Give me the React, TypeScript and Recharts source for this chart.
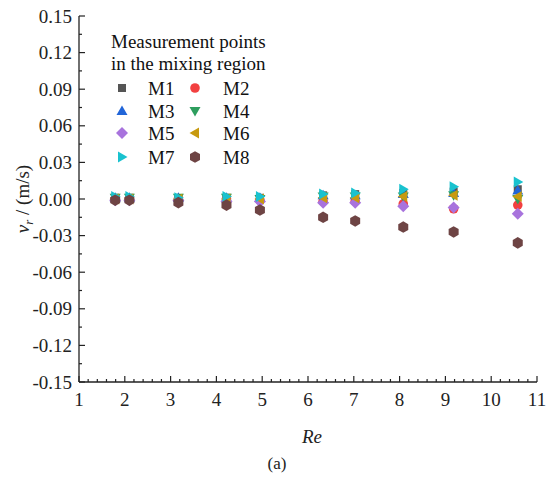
import { Scatter, ScatterChart, XAxis, YAxis } from "recharts";

// Re at each measurement run
const reValues = [1.79, 2.1, 3.17, 4.22, 4.95, 6.33, 7.03, 8.08, 9.18, 10.58];

// radial velocity (m/s) per measurement point
const m1 = [0.001, 0.001, 0.0, 0.001, 0.001, 0.003, 0.004, 0.005, 0.006, 0.008];
const m2 = [0.0, 0.0, 0.0, 0.0, -0.001, -0.002, -0.002, -0.004, -0.008, -0.005];
const m3 = [0.001, 0.001, 0.001, 0.001, 0.001, 0.003, 0.003, 0.004, 0.005, 0.007];
const m4 = [0.001, 0.001, 0.001, 0.001, 0.0, 0.002, 0.002, 0.002, 0.003, 0.0];
const m5 = [-0.001, -0.001, -0.001, -0.002, -0.002, -0.003, -0.003, -0.006, -0.007, -0.012];
const m6 = [0.0, 0.0, 0.0, 0.0, 0.0, 0.001, 0.001, 0.002, 0.003, 0.002];
const m7 = [0.002, 0.002, 0.001, 0.002, 0.002, 0.004, 0.005, 0.008, 0.01, 0.014];
const m8 = [-0.001, -0.001, -0.003, -0.005, -0.009, -0.015, -0.018, -0.023, -0.027, -0.036];

const seriesNames = ["M1", "M2", "M3", "M4", "M5", "M6", "M7", "M8"];
const seriesValues = [m1, m2, m3, m4, m5, m6, m7, m8];
const seriesColors = ["#555555", "#f24040", "#2165d8", "#2e9e5e", "#a873dd", "#c79a10", "#19c2cf", "#6e4444"];
const seriesShapes = ["square", "circle", "up", "down", "diamond", "left", "right", "hexagon"];

const xMajorTicks = [1, 2, 3, 4, 5, 6, 7, 8, 9, 10, 11];
const yMajorTicks = [-0.15, -0.12, -0.09, -0.06, -0.03, 0, 0.03, 0.06, 0.09, 0.12, 0.15];

// minor ticks: 4 between x majors, 1 between y majors
const xTicks: number[] = [];
xMajorTicks.forEach((t, i) => {
  xTicks.push(t);
  if (i < xMajorTicks.length - 1) for (let k = 1; k < 5; k++) xTicks.push(+(t + k * 0.2).toFixed(2));
});
const yTicks: number[] = [];
yMajorTicks.forEach((t, i) => {
  yTicks.push(t);
  if (i < yMajorTicks.length - 1) yTicks.push(+(t + 0.015).toFixed(3));
});

const FONT = "'Liberation Serif', 'DejaVu Serif', serif";
const INK = "#222";

function Marker({ kind, cx, cy, color }: { kind: string; cx: number; cy: number; color: string }) {
  const p = (pts: number[][]) => pts.map(([a, b]) => `${cx + a},${cy + b}`).join(" ");
  switch (kind) {
    case "square":
      return <rect x={cx - 4} y={cy - 4} width={8} height={8} fill={color} />;
    case "circle":
      return <circle cx={cx} cy={cy} r={4.8} fill={color} />;
    case "up":
      return <polygon points={p([[0, -5.5], [5.5, 4], [-5.5, 4]])} fill={color} />;
    case "down":
      return <polygon points={p([[0, 5.5], [5.5, -4], [-5.5, -4]])} fill={color} />;
    case "diamond":
      return <polygon points={p([[0, -6], [6, 0], [0, 6], [-6, 0]])} fill={color} />;
    case "left":
      return <polygon points={p([[-5.5, 0], [4, -5.5], [4, 5.5]])} fill={color} />;
    case "right":
      return <polygon points={p([[5.5, 0], [-4, -5.5], [-4, 5.5]])} fill={color} />;
    default:
      return <polygon points={p([[0, -5.8], [5, -2.9], [5, 2.9], [0, 5.8], [-5, 2.9], [-5, -2.9]])} fill={color} />;
  }
}

function XTick(props: any) {
  const { x, y, payload } = props;
  const v = payload.value;
  const major = Math.abs(v - Math.round(v)) < 1e-6;
  return (
    <g>
      <line x1={x} x2={x} y1={y} y2={y - (major ? 6 : 3)} stroke={INK} strokeWidth={1.2} />
      {major && (
        <text x={x} y={y + 24} textAnchor="middle" fontFamily={FONT} fontSize={19} fill={INK}>
          {Math.round(v)}
        </text>
      )}
    </g>
  );
}

function YTick(props: any) {
  const { x, y, payload } = props;
  const v = payload.value;
  const major = Math.round(Math.abs(v) * 1000) % 30 === 0;
  return (
    <g>
      <line x1={x} x2={x + (major ? 6 : 3)} y1={y} y2={y} stroke={INK} strokeWidth={1.2} />
      {major && (
        <text x={x - 7} y={y + 6.5} textAnchor="end" fontFamily={FONT} fontSize={19} fill={INK}>
          {v.toFixed(2)}
        </text>
      )}
    </g>
  );
}

function XLabel(props: any) {
  const { x, y, width } = props.viewBox;
  const cx = x + width / 2;
  return (
    <g fontFamily={FONT} fill={INK}>
      <text x={cx + 4} y={y + 61} textAnchor="middle" fontSize={19} fontStyle="italic">
        Re
      </text>
      <text x={cx - 31} y={y + 87} textAnchor="middle" fontSize={17}>
        (a)
      </text>
    </g>
  );
}

function YLabel(props: any) {
  const { y, height } = props.viewBox;
  const cy = y + height / 2;
  return (
    <text x={28.5} y={cy} transform={`rotate(-90 28.5 ${cy})`} textAnchor="middle" fontFamily={FONT} fontSize={19} fill={INK}>
      <tspan fontStyle="italic">v</tspan>
      <tspan fontStyle="italic" fontSize={13} dy={4}>r</tspan>
      <tspan dy={-4}> / (m/s)</tspan>
    </text>
  );
}

function LegendBox() {
  const rows = [88, 111, 133, 157];
  return (
    <svg width={550} height={478} style={{ position: "absolute", left: 0, top: 0, pointerEvents: "none" }}>
      <g fontFamily={FONT} fontSize={19} fill="#111">
        <text x={111} y={48}>Measurement points</text>
        <text x={111} y={70}>in the mixing region</text>
        {seriesNames.map((name, i) => {
          const col = i % 2;
          const cy = rows[Math.floor(i / 2)];
          const sx = col === 0 ? 122 : 195;
          const tx = col === 0 ? 148 : 223;
          return (
            <g key={name}>
              <Marker kind={seriesShapes[i]} cx={sx} cy={cy} color={seriesColors[i]} />
              <text x={tx} y={cy + 6.5}>{name}</text>
            </g>
          );
        })}
      </g>
    </svg>
  );
}

export default function App() {
  return (
    <div style={{ position: "absolute", left: 0, top: 0, width: 550, height: 478, background: "#fff" }}>
      <ScatterChart width={550} height={478} margin={{ top: 16, right: 13, bottom: 66, left: 19 }}>
        <XAxis
          dataKey="re"
          type="number"
          domain={[1, 11]}
          ticks={xTicks}
          interval={0}
          tickSize={0}
          tickMargin={0}
          tickLine={false}
          tick={<XTick />}
          height={30}
          axisLine={{ stroke: INK, strokeWidth: 1.3 }}
          label={<XLabel />}
        />
        <XAxis xAxisId="top" orientation="top" type="number" domain={[1, 11]} height={0} tick={false} tickLine={false} axisLine={{ stroke: INK, strokeWidth: 1.3 }} />
        <YAxis
          dataKey="v"
          type="number"
          domain={[-0.15, 0.15]}
          ticks={yTicks}
          interval={0}
          tickSize={0}
          tickMargin={0}
          tickLine={false}
          tick={<YTick />}
          width={60}
          axisLine={{ stroke: INK, strokeWidth: 1.3 }}
          label={<YLabel />}
        />
        <YAxis yAxisId="right" orientation="right" type="number" domain={[-0.15, 0.15]} width={0} tick={false} tickLine={false} axisLine={{ stroke: INK, strokeWidth: 1.3 }} />
        {seriesNames.map((name, i) => (
          <Scatter
            key={name}
            name={name}
            data={reValues.map((re, j) => ({ re, v: seriesValues[i][j] }))}
            isAnimationActive={false}
            shape={(p: any) => <Marker kind={seriesShapes[i]} cx={p.cx} cy={p.cy} color={seriesColors[i]} />}
          />
        ))}
      </ScatterChart>
      <LegendBox />
    </div>
  );
}
